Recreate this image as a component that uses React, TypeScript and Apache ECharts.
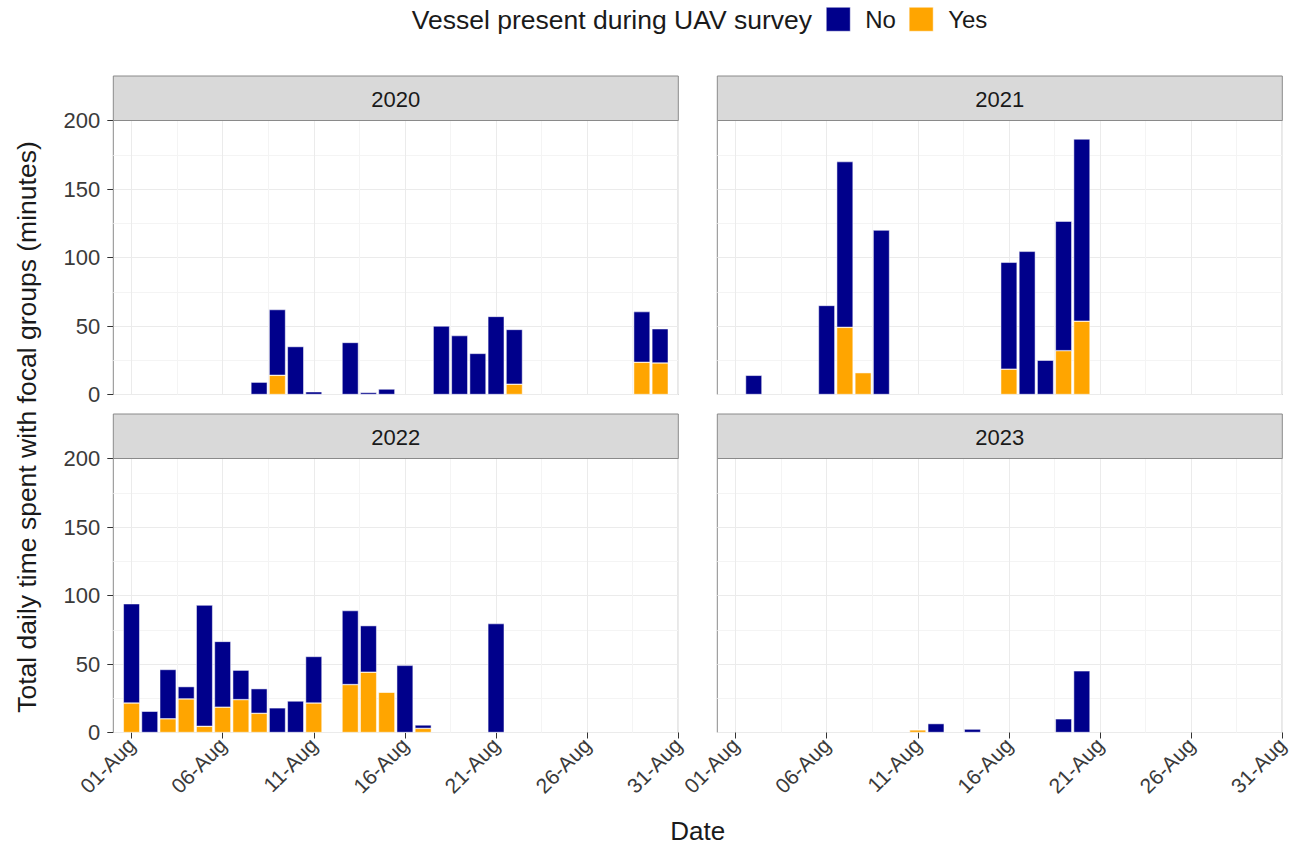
import React, { useEffect, useRef } from 'react';
import * as echarts from 'echarts';

// ---- Data (day of August; minutes) ----
const days2020 = [8, 9, 10, 11, 13, 14, 15, 18, 19, 20, 21, 22, 29, 30];
const yes2020 = [0, 14, 0, 0, 0, 0, 0, 0, 0, 0, 0, 7.5, 23.5, 23];
const no2020 = [9, 48, 35, 2, 38, 1.5, 4, 50, 43, 30, 57, 40, 37, 25];

const days2021 = [2, 6, 7, 8, 9, 16, 17, 18, 19, 20];
const yes2021 = [0, 0, 49, 16, 0, 18.5, 0, 0, 32, 53.5];
const no2021 = [14, 65, 121, 0, 120, 78, 104.5, 25, 94.5, 133];

const days2022 = [1, 2, 3, 4, 5, 6, 7, 8, 9, 10, 11, 13, 14, 15, 16, 17, 21];
const yes2022 = [21.5, 0, 10, 24.5, 4.5, 18.5, 24, 14, 0, 0, 21.5, 35, 44, 29.5, 0, 3, 0];
const no2022 = [72.5, 15.5, 36, 9, 88.5, 48, 21.5, 18, 18, 23, 34, 54, 34, 0, 49, 2.5, 79.5];

const days2023 = [11, 12, 14, 19, 20];
const yes2023 = [2, 0, 0, 0, 0];
const no2023 = [0, 6.5, 2.5, 10, 45];

const years = ['2020', '2021', '2022', '2023'];
// x categories: 31-Jul (index 0) then 01-Aug .. 31-Aug (index 1..31)
const dateCategories = ['31-Jul'].concat(
  Array.from({ length: 31 }, (_, k) => (k + 1 < 10 ? '0' : '') + (k + 1) + '-Aug')
);
const xTickIndexes = [1, 6, 11, 16, 21, 26, 31];
const xMinorPositions = [3.5, 8.5, 13.5, 18.5, 23.5, 28.5];
const legendNames = ['No', 'Yes'];

const panels = [
  { year: years[0], days: days2020, yes: yes2020, no: no2020 },
  { year: years[1], days: days2021, yes: yes2021, no: no2021 },
  { year: years[2], days: days2022, yes: yes2022, no: no2022 },
  { year: years[3], days: days2023, yes: yes2023, no: no2023 },
];

// ---- Layout ----
const FONT = "'Liberation Sans', Arial, Helvetica, sans-serif";
const COL_LEFT = [113.3, 717.3];
const PANEL_W = 565;
const ROW_TOP = [120.5, 458.5];
const PANEL_H = 274;
const STRIP_H = 44.5;
const NAVY = '#00008B';
const ORANGE = '#FFA500';
const BORDER = '#8a8a8a';
const TICK_TEXT = '#3a3a3a';

function toCategoryValues(days: number[], vals: number[]) {
  const out: (number | string)[] = dateCategories.map(() => '-');
  days.forEach((d, k) => {
    out[d] = vals[k];
  });
  return out;
}

export default function App() {
  const ref = useRef<HTMLDivElement>(null);

  useEffect(() => {
    if (!ref.current) return;
    const chart = echarts.init(ref.current, undefined, { renderer: 'svg' });

    const grids: any[] = [];
    const xAxes: any[] = [];
    const yAxes: any[] = [];
    const series: any[] = [];
    const graphics: any[] = [];
    const isMajor = (index: number) => xTickIndexes.indexOf(index) >= 0;

    panels.forEach((p, i) => {
      const col = i % 2;
      const row = Math.floor(i / 2);
      const isLeft = col === 0;
      const isBottom = row === 1;
      const left = COL_LEFT[col];
      const top = ROW_TOP[row];

      grids.push({
        left, top, width: PANEL_W, height: PANEL_H,
        show: true, borderColor: BORDER, borderWidth: 1,
        backgroundColor: 'transparent', containLabel: false, outerBoundsMode: 'none',
      });

      xAxes.push({
        type: 'category', gridIndex: i, data: dateCategories, boundaryGap: false,
        axisLine: { show: false },
        axisTick: { show: isBottom, interval: (idx: number) => isMajor(idx), length: 6, lineStyle: { color: '#333', width: 1 } },
        axisLabel: {
          show: isBottom, interval: (idx: number) => isMajor(idx), rotate: 45, margin: 9,
          fontSize: 21, color: TICK_TEXT, fontFamily: FONT, hideOverlap: false,
        },
        splitLine: { show: true, interval: (idx: number) => isMajor(idx), lineStyle: { color: '#EBEBEB', width: 1 } },
      });

      yAxes.push({
        type: 'value', gridIndex: i, min: 0, max: 200, interval: 50,
        axisLine: { show: false },
        axisTick: { show: isLeft, length: 6, lineStyle: { color: '#333', width: 1 } },
        axisLabel: { show: isLeft, margin: 13, fontSize: 22, color: TICK_TEXT, fontFamily: FONT },
        splitLine: { show: true, lineStyle: { color: '#EBEBEB', width: 1 } },
        minorTick: { show: false, splitNumber: 2 },
        minorSplitLine: { show: true, lineStyle: { color: '#F4F4F4', width: 1 } },
      });

      series.push({
        name: 'Yes', type: 'bar', xAxisIndex: i, yAxisIndex: i, stack: 's' + i,
        barWidth: 16.4,
        data: toCategoryValues(p.days, p.yes),
        itemStyle: { color: ORANGE, borderColor: '#ffffff', borderWidth: 0.5 },
      });
      series.push({
        name: 'No', type: 'bar', xAxisIndex: i, yAxisIndex: i, stack: 's' + i,
        barWidth: 16.4,
        data: toCategoryValues(p.days, p.no),
        itemStyle: { color: NAVY, borderColor: '#ffffff', borderWidth: 0.5 },
      });

      const stripTop = top - STRIP_H;
      graphics.push({
        type: 'rect', z: 10,
        shape: { x: left, y: stripTop, width: PANEL_W, height: STRIP_H },
        style: { fill: '#D9D9D9', stroke: BORDER, lineWidth: 1 },
      });
      graphics.push({
        type: 'text', z: 11, x: left + PANEL_W / 2, y: stripTop + STRIP_H / 2 + 1,
        style: { text: p.year, fontSize: 22, fontFamily: FONT, fill: '#1a1a1a', align: 'center', verticalAlign: 'middle' },
      });
    });

    // minor x gridlines (half-way between labelled dates)
    panels.forEach((_, i) => {
      xAxes.push({
        type: 'value', gridIndex: i, min: 0, max: dateCategories.length - 1, position: 'bottom',
        axisLine: { show: false },
        axisTick: { show: false, customValues: xMinorPositions },
        axisLabel: { show: false, customValues: xMinorPositions },
        splitLine: { show: true, lineStyle: { color: '#F4F4F4', width: 1 } },
      });
    });

    graphics.push({
      type: 'text', x: 812, y: 20,
      style: { text: 'Vessel present during UAV survey', fontSize: 26.5, fontFamily: FONT, fill: '#1a1a1a', align: 'right', verticalAlign: 'middle' },
    });
    graphics.push({
      type: 'text', x: 27, y: 427, rotation: Math.PI / 2,
      style: { text: 'Total daily time spent with focal groups (minutes)', fontSize: 26.5, fontFamily: FONT, fill: '#1a1a1a', align: 'center', verticalAlign: 'middle' },
    });
    graphics.push({
      type: 'text', x: (COL_LEFT[0] + COL_LEFT[1] + PANEL_W) / 2, y: 831,
      style: { text: 'Date', fontSize: 26, fontFamily: FONT, fill: '#1a1a1a', align: 'center', verticalAlign: 'middle' },
    });

    chart.setOption({
      animation: false,
      textStyle: { fontFamily: FONT },
      legend: {
        data: legendNames, left: 826, top: 7, padding: 0, orient: 'horizontal',
        icon: 'rect', itemWidth: 24, itemHeight: 24, itemGap: 13,
        selectedMode: false,
        textStyle: { fontSize: 24, color: '#1a1a1a', fontFamily: FONT, padding: [0, 0, 0, 10] },
        itemStyle: { borderColor: '#ffffff', borderWidth: 0.5 },
      },
      grid: grids,
      xAxis: xAxes,
      yAxis: yAxes,
      series,
      graphic: graphics,
    });

    return () => chart.dispose();
  }, []);

  return <div ref={ref} style={{ position: 'fixed', left: 0, top: 0, width: 1304, height: 846, background: '#fff' }} />;
}
